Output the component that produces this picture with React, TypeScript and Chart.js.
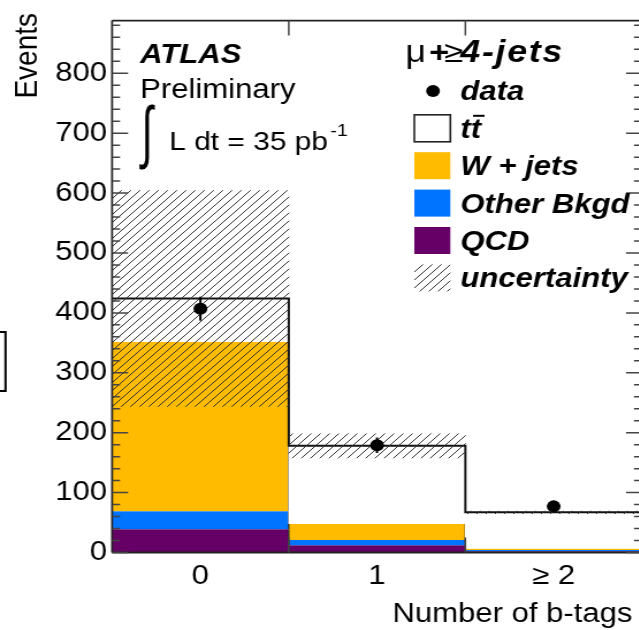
import React, { useEffect, useRef } from "react";
import { Chart, registerables } from "chart.js";

Chart.register(...registerables);

// Bins: number of b-tagged jets
const binLabels = ["0", "1", "≥ 2"];
const binCenters = [0, 1, 2];

// Expected events per bin, stacked from the bottom up
const qcd = [39, 12, 2];
const otherBkgd = [30, 9, 2];
const wJets = [283, 27, 3];
const ttbar = [72, 130, 60];

// Half-width of the uncertainty band on the total expectation
const mcUncertainty = [180, 20, 2];

// Observed events and their statistical errors
const dataCounts = [407, 179, 77];
const dataErrors = [20, 13, 9];

const yMajorTicks = [0, 100, 200, 300, 400, 500, 600, 700, 800];
const yMinorStep = 20;
const yMax = 888;

const COLOR_W = "#ffbb00";
const COLOR_OTHER = "#0073ff";
const COLOR_QCD = "#660066";

// The canvas is drawn narrower than the page and widened with CSS.
const STRETCH = 1.15;
const CANVAS_W = 570;
const CANVAS_H = 630;
const px = (pageX: number) => pageX / STRETCH; // page x -> canvas x

const PLOT_LEFT = px(112);
const PLOT_RIGHT = px(641.5);
const PLOT_TOP = 13.3;
const PLOT_BOTTOM = 552.5;

const FONT = "'Liberation Sans', Arial, Helvetica, sans-serif";
const FONT_SIZE = 27;

const sum = (...parts: number[][]) =>
  binCenters.map((_, i) => parts.reduce((s, p) => s + p[i], 0));
const zeros = binCenters.map(() => 0);
const lvlQcd = sum(qcd);
const lvlOther = sum(qcd, otherBkgd);
const lvlW = sum(qcd, otherBkgd, wJets);
const lvlTotal = sum(qcd, otherBkgd, wJets, ttbar);
const band = (lo: number[], hi: number[]) =>
  binCenters.map((x, i) => ({ x, y: [lo[i], hi[i]] }));

function makeHatch(ctx: CanvasRenderingContext2D): CanvasPattern {
  const size = 8;
  const c = document.createElement("canvas");
  c.width = size;
  c.height = size;
  const g = c.getContext("2d")!;
  g.strokeStyle = "#333";
  g.lineWidth = 1;
  g.beginPath();
  g.moveTo(-1, size + 1);
  g.lineTo(size + 1, -1);
  g.moveTo(-1, 1);
  g.lineTo(1, -1);
  g.moveTo(size - 1, size + 1);
  g.lineTo(size + 1, size - 1);
  g.stroke();
  return ctx.createPattern(c, "repeat")!;
}

export default function App() {
  const ref = useRef<HTMLCanvasElement | null>(null);

  useEffect(() => {
    const canvas = ref.current!;
    const ctx0 = canvas.getContext("2d")!;
    const hatch = makeHatch(ctx0);

    const barCommon = {
      type: "bar" as const,
      grouped: false,
      barPercentage: 1,
      categoryPercentage: 1,
    };
    const sideBorder = {
      borderColor: "#333",
      borderWidth: { left: 1, right: 1, top: 0, bottom: 0 },
      borderSkipped: false as const,
    };

    const overlay = {
      id: "overlay",
      afterDatasetsDraw(chart: any) {
        const { ctx } = chart;
        const y = chart.scales.y;
        const meta = chart.getDatasetMeta(0);
        ctx.save();
        ctx.strokeStyle = "#000";
        ctx.lineWidth = 2;
        meta.data.forEach((pt: any, i: number) => {
          ctx.beginPath();
          ctx.moveTo(pt.x, y.getPixelForValue(dataCounts[i] - dataErrors[i]));
          ctx.lineTo(pt.x, y.getPixelForValue(dataCounts[i] + dataErrors[i]));
          ctx.stroke();
        });
        ctx.restore();
      },
      afterDraw(chart: any) {
        const { ctx, chartArea: a } = chart;
        const x = chart.scales.x;
        const y = chart.scales.y;
        ctx.save();

        // Frame
        ctx.strokeStyle = "#222";
        ctx.lineWidth = 1.8;
        ctx.beginPath();
        ctx.moveTo(a.left, a.top);
        ctx.lineTo(a.right, a.top);
        ctx.moveTo(a.left, a.bottom);
        ctx.lineTo(a.right, a.bottom);
        ctx.stroke();
        ctx.lineWidth = 1.7;
        ctx.beginPath();
        ctx.moveTo(a.left, a.top);
        ctx.lineTo(a.left, a.bottom);
        ctx.moveTo(a.right, a.top);
        ctx.lineTo(a.right, a.bottom);
        ctx.stroke();

        // Inward ticks on the y axes
        ctx.strokeStyle = "#444";
        ctx.lineWidth = 1.5;
        ctx.beginPath();
        for (let v = 0; v <= yMax; v += yMinorStep) {
          const major = v % 100 === 0;
          const len = major ? px(16) : px(8);
          const yy = y.getPixelForValue(v);
          ctx.moveTo(a.left, yy);
          ctx.lineTo(a.left + len, yy);
          ctx.moveTo(a.right, yy);
          ctx.lineTo(a.right - len, yy);
        }
        // Ticks on the x axes at the bin edges
        for (let i = 1; i < binCenters.length; i++) {
          const xx = x.getPixelForValue(binCenters[i] - 0.5);
          ctx.moveTo(xx, a.top);
          ctx.lineTo(xx, a.top + 15);
          ctx.moveTo(xx, a.bottom);
          ctx.lineTo(xx, a.bottom - 15);
        }
        ctx.stroke();

        // Axis titles
        ctx.fillStyle = "#000";
        ctx.font = `${FONT_SIZE}px ${FONT}`;
        ctx.textBaseline = "alphabetic";
        ctx.textAlign = "right";
        ctx.fillText("Number of b-tags", px(632), 622);
        ctx.save();
        ctx.translate(px(37), 13);
        ctx.rotate(-Math.PI / 2);
        ctx.font = `28px ${FONT}`;
        ctx.fillText("Events", 0, 0);
        ctx.restore();

        // Experiment label
        ctx.textAlign = "left";
        ctx.font = `italic bold ${FONT_SIZE}px ${FONT}`;
        ctx.fillText("ATLAS", px(140), 63);
        ctx.font = `${FONT_SIZE}px ${FONT}`;
        ctx.fillText("Preliminary", px(140), 98);

        // Integral sign, fitted into its box
        ctx.save();
        ctx.font = `80px ${FONT}`;
        const m = ctx.measureText("∫");
        const gw = m.actualBoundingBoxLeft + m.actualBoundingBoxRight;
        const gh = m.actualBoundingBoxAscent + m.actualBoundingBoxDescent;
        const bx = px(139);
        const bw = px(155) - px(139);
        ctx.translate(bx, 105);
        ctx.scale(bw / gw, 65 / gh);
        ctx.fillText("∫", m.actualBoundingBoxLeft, m.actualBoundingBoxAscent);
        ctx.restore();

        ctx.font = `26px ${FONT}`;
        ctx.fillText("L dt = 35 pb", px(169), 150);
        const lw = ctx.measureText("L dt = 35 pb").width;
        ctx.font = `17px ${FONT}`;
        ctx.fillText("-1", px(169) + lw + 2, 136);

        // Legend
        const rowY = (i: number) => 53.5 + 37.4 * i;
        const textX = px(460);
        const boxL = px(414);
        const boxW = px(450) - px(414);
        const boxH = 27;

        // Header: channel
        const hy = 62;
        ctx.font = `31px ${FONT}`;
        ctx.fillText("μ", px(405), hy);
        ctx.font = `italic bold 30px ${FONT}`;
        ctx.fillText("+", px(428), hy);
        ctx.font = `30px ${FONT}`;
        ctx.fillText("≥", px(444), hy);
        ctx.save();
        ctx.font = `italic bold 31px ${FONT}`;
        (ctx as any).letterSpacing = "1.5px";
        ctx.fillText("4-jets", textX, hy);
        ctx.restore();

        const entries = ["data", "tt", "W + jets", "Other Bkgd", "QCD", "uncertainty"];
        entries.forEach((label, k) => {
          const cy = rowY(k + 1);
          ctx.font = `italic bold ${FONT_SIZE}px ${FONT}`;
          ctx.fillStyle = "#000";
          ctx.fillText(label, textX, cy + 9.5);
        });

        // data marker
        ctx.beginPath();
        ctx.arc(px(432.7), rowY(1), 6, 0, Math.PI * 2);
        ctx.fill();

        // tt box and overbar on the second t
        ctx.strokeStyle = "#222";
        ctx.lineWidth = 1.6;
        ctx.fillStyle = "#fff";
        ctx.fillRect(boxL, rowY(2) - boxH / 2, boxW, boxH);
        ctx.strokeRect(boxL, rowY(2) - boxH / 2, boxW, boxH);
        ctx.font = `italic bold ${FONT_SIZE}px ${FONT}`;
        const tw = ctx.measureText("t").width;
        ctx.strokeStyle = "#000";
        ctx.lineWidth = 2;
        ctx.beginPath();
        const barY = rowY(2) + 9.5 - 22;
        ctx.moveTo(textX + tw + 2, barY);
        ctx.lineTo(textX + 2 * tw + 3, barY);
        ctx.stroke();

        const fills = [COLOR_W, COLOR_OTHER, COLOR_QCD];
        fills.forEach((c, k) => {
          ctx.fillStyle = c;
          ctx.fillRect(boxL, rowY(3 + k) - boxH / 2, boxW, boxH);
        });
        ctx.fillStyle = "#fff";
        ctx.fillRect(boxL, rowY(6) - boxH / 2, boxW, boxH);
        ctx.fillStyle = hatch;
        ctx.fillRect(boxL, rowY(6) - boxH / 2, boxW, boxH);

        // Box partly outside the left edge
        ctx.strokeStyle = "#000";
        ctx.lineWidth = 2;
        ctx.strokeRect(-10, 332, px(5.5) + 10, 59);

        ctx.restore();
      },
    };

    const chart = new Chart(canvas, {
      type: "bar",
      data: {
        datasets: [
          {
            type: "line",
            label: "data",
            data: binCenters.map((x, i) => ({ x, y: dataCounts[i] })),
            showLine: false,
            pointRadius: 6,
            pointBackgroundColor: "#000",
            pointBorderWidth: 0,
            order: 0,
          },
          {
            ...barCommon,
            label: "uncertainty",
            data: band(
              lvlTotal.map((v, i) => v - mcUncertainty[i]),
              lvlTotal.map((v, i) => v + mcUncertainty[i])
            ),
            backgroundColor: hatch,
            borderWidth: 0,
            order: 1,
          },
          {
            type: "line",
            label: "expected",
            data: [
              ...binCenters.map((x, i) => ({ x: x - 0.5, y: lvlTotal[i] })),
              {
                x: binCenters[binCenters.length - 1] + 0.5,
                y: lvlTotal[lvlTotal.length - 1],
              },
            ],
            stepped: "before",
            borderColor: "#111",
            borderWidth: 2,
            pointRadius: 0,
            fill: false,
            order: 2,
          },
          {
            ...barCommon,
            label: "tt",
            data: band(lvlW, lvlTotal),
            backgroundColor: "#ffffff",
            borderWidth: 0,
            order: 3,
          },
          {
            ...barCommon,
            ...sideBorder,
            label: "W + jets",
            data: band(lvlOther, lvlW),
            backgroundColor: COLOR_W,
            order: 4,
          },
          {
            ...barCommon,
            ...sideBorder,
            label: "Other Bkgd",
            data: band(lvlQcd, lvlOther),
            backgroundColor: COLOR_OTHER,
            order: 5,
          },
          {
            ...barCommon,
            ...sideBorder,
            label: "QCD",
            data: band(zeros, lvlQcd),
            backgroundColor: COLOR_QCD,
            order: 6,
          },
        ] as any,
      },
      options: {
        responsive: false,
        animation: false,
        devicePixelRatio: 1,
        events: [],
        layout: {
          padding: { top: PLOT_TOP, right: CANVAS_W - PLOT_RIGHT, left: 0, bottom: 0 },
        },
        plugins: { legend: { display: false }, tooltip: { enabled: false } },
        scales: {
          x: {
            type: "linear",
            min: -0.5,
            max: 2.5,
            offset: false,
            grid: { display: false, drawTicks: false, offset: false },
            border: { display: false },
            afterBuildTicks: (s: any) => {
              s.ticks = binCenters.map((v) => ({ value: v }));
            },
            afterFit: (s: any) => {
              s.height = CANVAS_H - PLOT_BOTTOM;
            },
            ticks: {
              callback: (v: any) => binLabels[binCenters.indexOf(Number(v))] ?? "",
              font: { family: FONT, size: FONT_SIZE },
              color: "#000",
              padding: 8,
              maxRotation: 0,
              autoSkip: false,
            },
          },
          y: {
            type: "linear",
            min: 0,
            max: yMax,
            grid: { display: false, drawTicks: false },
            border: { display: false },
            afterBuildTicks: (s: any) => {
              s.ticks = yMajorTicks.map((v) => ({ value: v }));
            },
            afterFit: (s: any) => {
              s.width = PLOT_LEFT;
            },
            ticks: {
              font: { family: FONT, size: FONT_SIZE },
              color: "#000",
              padding: px(5),
            },
          },
        },
      } as any,
      plugins: [overlay],
    });

    return () => chart.destroy();
  }, []);

  return (
    <div
      style={{
        position: "fixed",
        left: 0,
        top: 0,
        width: 639,
        height: 630,
        overflow: "hidden",
        background: "#fff",
      }}
    >
      <canvas
        ref={ref}
        width={CANVAS_W}
        height={CANVAS_H}
        style={{ width: `${CANVAS_W * STRETCH}px`, height: `${CANVAS_H}px`, display: "block" }}
      />
    </div>
  );
}
